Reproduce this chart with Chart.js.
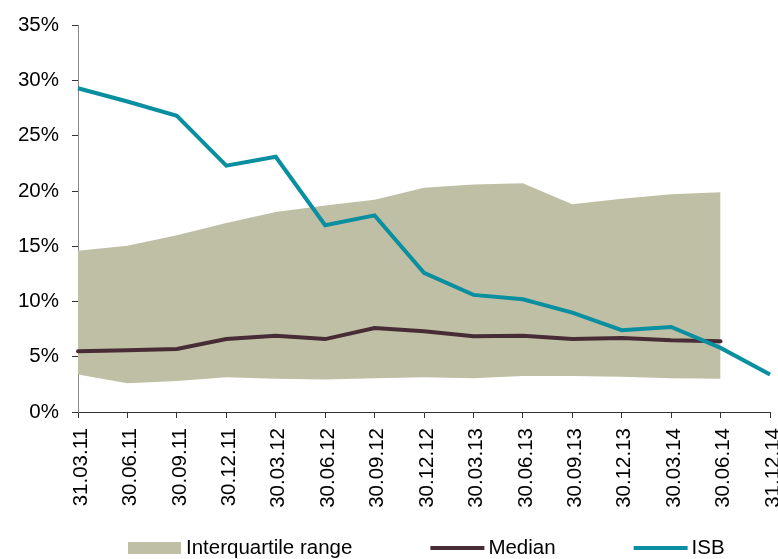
<!DOCTYPE html>
<html>
<head>
<meta charset="utf-8">
<script src="https://cdn.jsdelivr.net/npm/chart.js@4.4.1/dist/chart.umd.min.js"></script>
<style>
  html, body { margin: 0; padding: 0; background: #ffffff; }
  #wrap { width: 778px; height: 559px; position: relative; }
</style>
</head>
<body>
<div id="wrap"><canvas id="c" width="778" height="559"></canvas></div>
<script>
const categories = ["31.03.11","30.06.11","30.09.11","30.12.11","30.03.12","30.06.12","30.09.12","30.12.12","30.03.13","30.06.13","30.09.13","30.12.13","30.03.14","30.06.14","31.12.14"];
const isb      = [29.3, 28.1, 26.8, 22.3, 23.1, 16.9, 17.8, 12.6, 10.6, 10.2, 9.0, 7.4, 7.7, 5.8, 3.4];
const median   = [5.5, 5.6, 5.7, 6.6, 6.9, 6.6, 7.6, 7.3, 6.85, 6.9, 6.6, 6.7, 6.5, 6.4, null];
const iqrUpper = [14.6, 15.05, 16.0, 17.1, 18.1, 18.7, 19.2, 20.3, 20.6, 20.7, 18.8, 19.3, 19.7, 19.9, null];
const iqrLower = [3.4, 2.6, 2.8, 3.15, 3.0, 2.95, 3.05, 3.15, 3.05, 3.25, 3.25, 3.2, 3.05, 3.0, null];
const yTicks   = [0, 5, 10, 15, 20, 25, 30, 35];

const COL_BAND = '#BFBFA5';
const COL_MED  = '#472C36';
const COL_ISB  = '#0A8FA0';
const FONT = 'Liberation Sans, Arial, sans-serif';
const FS = 20.5;

const legendPlugin = {
  id: 'customLegend',
  afterDraw(chart) {
    const ctx = chart.ctx;
    const items = [
      { text: chart.data.datasets[2].label, color: COL_BAND, type: 'box' },
      { text: chart.data.datasets[1].label, color: COL_MED, type: 'line' },
      { text: chart.data.datasets[0].label, color: COL_ISB, type: 'line' }
    ];
    ctx.save();
    ctx.font = FS + 'px ' + FONT;
    ctx.textBaseline = 'middle';
    ctx.textAlign = 'left';
    const y = 548;
    let x = 128;
    items.forEach(it => {
      if (it.type === 'box') {
        ctx.fillStyle = it.color;
        ctx.fillRect(x, y - 6, 53, 12);
      } else {
        ctx.strokeStyle = it.color;
        ctx.lineWidth = 4;
        ctx.beginPath();
        ctx.moveTo(x, y);
        ctx.lineTo(x + 54, y);
        ctx.stroke();
      }
      ctx.fillStyle = '#000';
      ctx.fillText(it.text, x + 58, y);
      x += 58 + ctx.measureText(it.text).width + 78;
    });
    ctx.restore();
  }
};

new Chart(document.getElementById('c'), {
  type: 'line',
  data: {
    labels: categories,
    datasets: [
      { label: 'ISB', data: isb, borderColor: COL_ISB, borderWidth: 4, pointRadius: 0, tension: 0, fill: false },
      { label: 'Median', data: median, borderColor: COL_MED, borderWidth: 4, pointRadius: 0, tension: 0, fill: false, borderCapStyle: 'round' },
      { label: 'Interquartile range', data: iqrUpper, borderWidth: 0, borderColor: COL_BAND, backgroundColor: COL_BAND, pointRadius: 0, tension: 0, fill: '+1' },
      { label: 'lower', data: iqrLower, borderWidth: 0, borderColor: COL_BAND, backgroundColor: COL_BAND, pointRadius: 0, tension: 0, fill: false }
    ]
  },
  options: {
    responsive: false,
    animation: false,
    devicePixelRatio: 1,
    layout: { padding: { top: 20, right: 8, left: 0, bottom: 0 } },
    plugins: { legend: { display: false }, tooltip: { enabled: false } },
    scales: {
      x: {
        type: 'category',
        offset: false,
        grid: { display: true, drawOnChartArea: false, drawTicks: true, tickLength: 6, color: '#333', offset: false },
        border: { display: true, color: '#333', width: 1 },
        ticks: {
          autoSkip: false, maxRotation: 90, minRotation: 90, padding: 10, labelOffset: 3,
          color: '#000', font: { family: FONT, size: FS }
        },
        afterFit(scale) { scale.height = 147; scale.paddingLeft = 0; scale.paddingRight = 0; }
      },
      y: {
        min: 0, max: 35,
        afterBuildTicks(scale) { scale.ticks = yTicks.map(v => ({ value: v })); },
        grid: { display: true, drawOnChartArea: false, drawTicks: true, tickLength: 6, color: '#333' },
        border: { display: true, color: '#888', width: 1 },
        ticks: {
          padding: 13, color: '#000', font: { family: FONT, size: FS },
          callback: v => v + '%'
        },
        afterFit(scale) { scale.width = 78; }
      }
    }
  },
  plugins: [legendPlugin]
});
</script>
</body>
</html>
